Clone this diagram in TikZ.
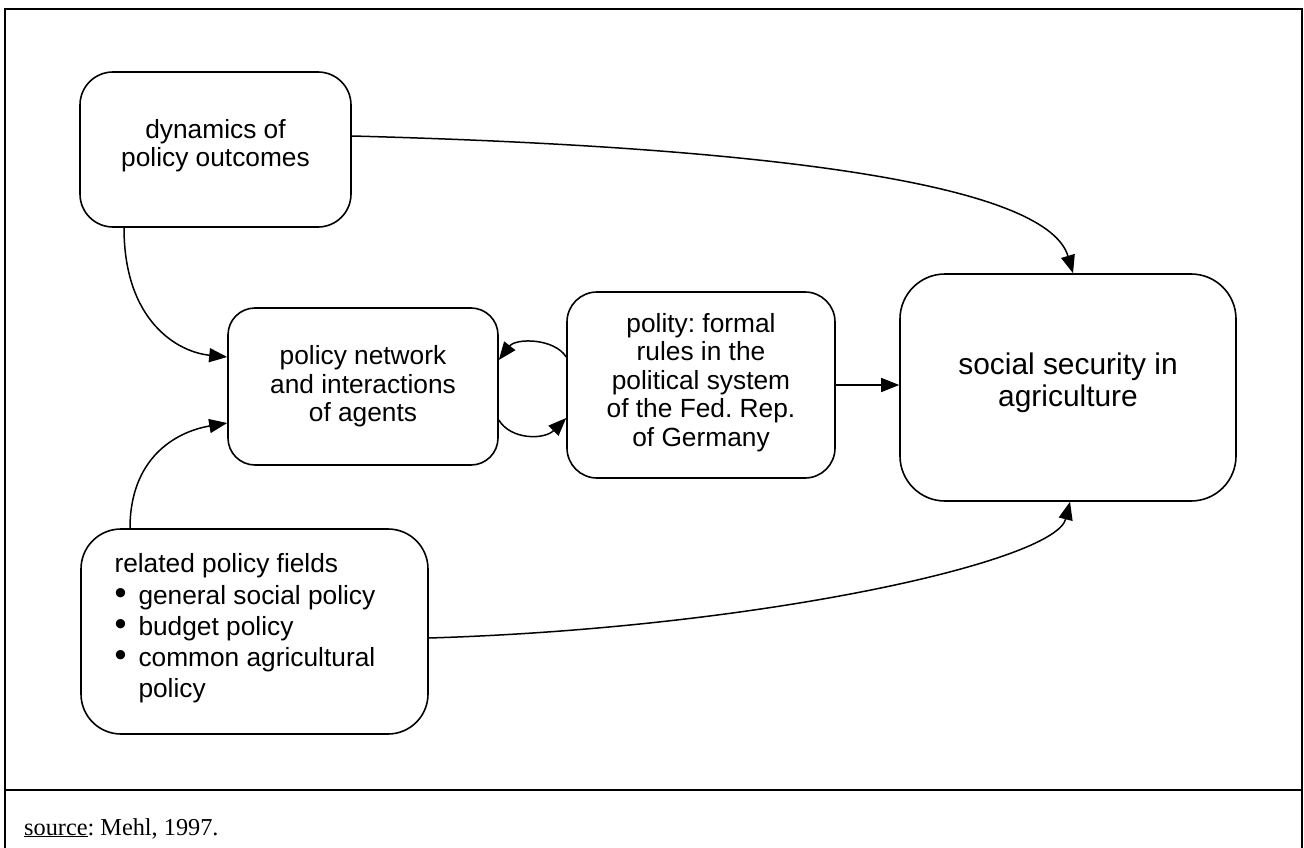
\documentclass[tikz,border=0pt]{standalone}
\usepackage{fontspec}
\setmainfont{Liberation Sans}
\newfontfamily\serifsrc{Liberation Serif}
\usetikzlibrary{arrows.meta}
\frenchspacing
\newcommand{\bx}[4]{\parbox[c][#2][c]{#1}{#4\par\vspace*{#3}}}
\newcommand{\bul}{\makebox[24pt][l]{\scalebox{1.3}{\textbullet}}}
\begin{document}
\begin{tikzpicture}[x=1pt,y=-1pt,
  box/.style={draw, line width=1.6pt, rounded corners=30pt, inner sep=0pt,
    font=\fontsize{26.3}{28.5}\selectfont},
  conn/.style={line width=1.5pt, -{Triangle[length=18pt,width=14pt]}},
  frameline/.style={line width=2pt}]
\useasboundingbox (0,0) rectangle (1304,848);
% frame
\draw[frameline] (5,848) -- (5,9) -- (1302,9) -- (1302,848);
\draw[frameline] (5,789.5) -- (1302,789.5);
% boxes
\node[box, rounded corners=33pt] (A) at (215.5,149.5)
  {\bx{271pt}{155pt}{8pt}{\centering dynamics of\\policy outcomes}};
\node[box, rounded corners=27pt] (B) at (363,386.5)
  {\bx{270pt}{157pt}{0pt}{\centering policy network\\and interactions\\of agents}};
\node[box, rounded corners=30pt] (C) at (701,385)
  {\bx{268pt}{186pt}{5pt}{\centering polity: formal\\rules in the\\political system\\of the Fed. Rep.\\of Germany}};
\node[box, rounded corners=45pt, font=\fontsize{29.9}{32}\selectfont] (D) at (1068,387.5)
  {\bx{336pt}{227pt}{10pt}{\centering social security in\\agriculture}};
\node[box, rounded corners=40pt, font=\fontsize{26.3}{31.3}\selectfont] (E) at (254.5,631.5)
  {\bx{347pt}{205pt}{6pt}{\leftskip=33.5pt\relax
   related policy fields\\
   \bul general social policy\\
   \bul budget policy\\
   \bul common agricultural\\
   \hspace*{24pt}policy}};
% source
\node[anchor=base west, inner sep=0pt, font=\serifsrc\fontsize{24.3}{28}\selectfont] (src) at (24,835)
  {\underline{source}: Mehl, 1997.};
% connectors
\draw[conn] ([yshift=13.5pt]A.east) .. controls +(450,12) and +(-25,-85) .. ([xshift=5pt]D.north);
\draw[conn] ([xshift=-91.5pt]A.south) .. controls +(0,93) and +(-50,-5) .. ([yshift=29.5pt]B.west);
\draw[conn] ([xshift=-124.5pt]E.north) .. controls +(0,-69) and +(-53,9) .. ([yshift=-36.5pt]B.west);
\draw[conn] ([yshift=28pt]C.west) .. controls +(-12,-19) and +(17,-22) .. ([yshift=26.5pt]B.east);
\draw[conn] ([yshift=-33.5pt]B.east) .. controls +(12,20) and +(-22,22) .. ([yshift=-33pt]C.west);
\draw[conn] (C.east) -- (C.east -| D.west);
\draw[conn] ([yshift=-6.5pt]E.east) .. controls +(330,-10) and +(-15,60) .. ([xshift=2pt]D.south);
\end{tikzpicture}
\end{document}
